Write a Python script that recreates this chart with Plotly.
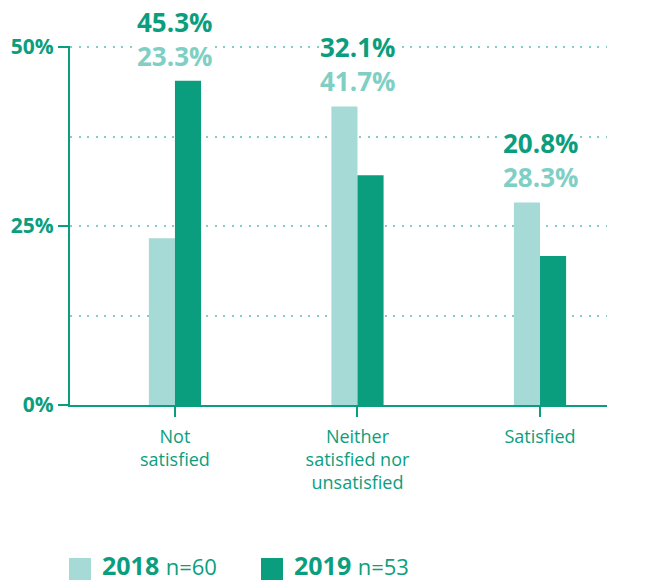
import plotly.graph_objects as go

# data
categories = ["Not<br>satisfied", "Neither<br>satisfied nor<br>unsatisfied", "Satisfied"]
values_2018 = [23.3, 41.7, 28.3]
values_2019 = [45.3, 32.1, 20.8]
series_names = ["2018", "2019"]
series_n = ["n=60", "n=53"]
y_ticks = [0, 25, 50]
y_ticktext = ["0%", "25%", "50%"]

DARK = "#0b9e7e"
LIGHT_BAR = "#a6dad6"
LIGHT_TXT = "#7fcfc5"
GRID = "#7fcfc8"
FONT = "Open Sans"

W, H = 655, 582
L, R, T, B = 70, 48, 46, 177

x_pos = list(range(len(categories)))

fig = go.Figure()
fig.add_trace(go.Bar(
    x=x_pos, y=values_2018, name=series_names[0],
    width=0.143, offset=-0.143,
    marker=dict(color=LIGHT_BAR, line=dict(width=0)),
))
fig.add_trace(go.Bar(
    x=x_pos, y=values_2019, name=series_names[1],
    width=0.143, offset=0,
    marker=dict(color=DARK, line=dict(width=0)),
))

# value labels stacked above the tallest bar of each group (2019 on top)
for i in x_pos:
    top = max(values_2018[i], values_2019[i])
    txt = (f"<span style='color:{DARK}'>{values_2019[i]:.1f}%</span><br>"
           f"<span style='color:{LIGHT_TXT}'>{values_2018[i]:.1f}%</span>")
    fig.add_annotation(x=i, y=top, xref="x", yref="y", yanchor="bottom",
                       yshift=6, text=txt, showarrow=False,
                       font=dict(family=FONT, size=26, color=DARK, weight="bold"),
                       bgcolor="white", borderpad=0)

# legend drawn by hand
pw, ph = W - L - R, H - T - B


def px_x(p):
    return (p - L) / pw


def px_y(p):
    return (H - B - p) / ph


swatch_x = [69, 261]
for k, col in enumerate([LIGHT_BAR, DARK]):
    fig.add_shape(type="rect", xref="paper", yref="paper",
                  x0=px_x(swatch_x[k]), x1=px_x(swatch_x[k] + 22),
                  y0=px_y(580), y1=px_y(558),
                  fillcolor=col, line=dict(width=0))
    fig.add_annotation(x=px_x(swatch_x[k] + 31), y=px_y(565), xref="paper", yref="paper",
                       xanchor="left", yanchor="middle", showarrow=False,
                       text=f"<b>{series_names[k]}</b> <span style='font-size:22px'>{series_n[k]}</span>",
                       font=dict(family=FONT, size=25, color=DARK))

fig.update_layout(
    width=W, height=H,
    margin=dict(l=L, r=R, t=T, b=B),
    plot_bgcolor="white", paper_bgcolor="white",
    showlegend=False,
    xaxis=dict(
        range=[-0.575, 2.367],
        tickvals=x_pos, ticktext=categories,
        showgrid=False, zeroline=False,
        showline=True, linecolor=DARK, linewidth=2,
        ticks="outside", ticklen=10, tickwidth=2, tickcolor=DARK,
        ticklabelstandoff=4,
        tickfont=dict(family=FONT, size=18, color=DARK),
    ),
    yaxis=dict(
        range=[0, 50.15],
        tickvals=y_ticks, ticktext=y_ticktext,
        showgrid=True, gridcolor=GRID, gridwidth=2, griddash="2px,6.5px",
        zeroline=False,
        showline=True, linecolor=DARK, linewidth=2,
        ticks="outside", ticklen=10, tickwidth=2, tickcolor=DARK,
        tickfont=dict(family=FONT, size=21, color=DARK, weight="bold"),
        minor=dict(tickvals=[12.5, 37.5], showgrid=True, gridcolor=GRID,
                   gridwidth=2, griddash="2px,6.5px", ticks=""),
    ),
)

fig.write_html("out.html", config={"displayModeBar": False},
               post_script="document.body.style.margin='0';")
